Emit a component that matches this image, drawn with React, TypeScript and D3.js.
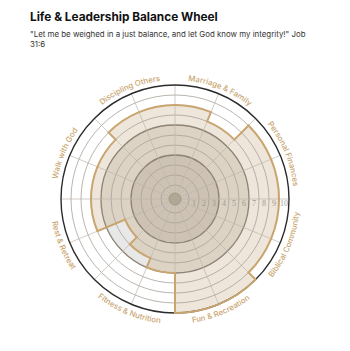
import React from 'react';
import * as d3 from 'd3';

// wheel categories, clockwise from 12 o'clock
const categories = [
  'Marriage & Family',
  'Personal Finances',
  'Biblical Community',
  'Fun & Recreation',
  'Fitness & Nutrition',
  'Rest & Retreat',
  'Walk with God',
  'Discipling Others',
];

// each wedge is drawn as two halves
const firstHalfScores = [8, 9, 9, 10, 6, 4, 7, 8];
const secondHalfScores = [7, 9, 9, 10, 5, 7, 7, 8];

// light grey area left behind in a couple of halves
const ghostFirstHalf = [0, 0, 0, 0, 0, 6, 0, 0];
const ghostSecondHalf = [0, 0, 0, 0, 6, 0, 0, 0];

const scaleTicks = [1, 2, 3, 4, 5, 6, 7, 8, 9, 10];

const W = 350;
const H = 351;
const cx = 175;
const cy = 199;

const TAN = '#c9a56f';

export default function App() {
  const r = d3.scaleLinear().domain([0, 10]).range([14, 114]);
  const n = categories.length;
  const wedge = (2 * Math.PI) / n;
  const half = wedge / 2;

  // halves as flat list
  const halves: { a0: number; a1: number; v: number; ghost: number }[] = [];
  categories.forEach((_, i) => {
    halves.push({ a0: i * wedge, a1: i * wedge + half, v: firstHalfScores[i], ghost: ghostFirstHalf[i] });
    halves.push({ a0: i * wedge + half, a1: (i + 1) * wedge, v: secondHalfScores[i], ghost: ghostSecondHalf[i] });
  });

  // outline of the scores
  const p = d3.path();
  halves.forEach((h) => {
    p.arc(0, 0, r(h.v), h.a0 - Math.PI / 2, h.a1 - Math.PI / 2);
  });
  p.closePath();
  const shape = p.toString();

  const ghostArc = d3.arc<any>();

  const bands = [
    { to: 10, fill: '#eee6da' },
    { to: 6, fill: '#ddd3c5' },
    { to: 3, fill: '#cdc2b3' },
  ];

  const spokes = d3.range(n * 2).map((i) => i * half);

  const labelPaths = categories.map((c, i) => {
    const mid = i * wedge + half;
    const top = mid < Math.PI / 2 || mid > (3 * Math.PI) / 2;
    const span = Math.PI / 3;
    const rad = top ? 119 : 125;
    const pt = (a: number) => [rad * Math.sin(a), -rad * Math.cos(a)];
    const s = top ? pt(mid - span) : pt(mid + span);
    const e = top ? pt(mid + span) : pt(mid - span);
    return `M${s[0]},${s[1]} A${rad},${rad} 0 0 ${top ? 1 : 0} ${e[0]},${e[1]}`;
  });

  return (
    <svg
      width={W}
      height={H}
      style={{ position: 'absolute', left: 0, top: 0, background: '#fff' }}
      fontFamily="Inter, 'Noto Sans', sans-serif"
    >
      <defs>
        <clipPath id="scoreClip">
          <path d={shape} transform={`translate(${cx},${cy})`} />
        </clipPath>
        {labelPaths.map((d, i) => (
          <path key={i} id={`lbl${i}`} d={d} />
        ))}
      </defs>

      <text x={30} y={21} fontSize={11.8} fontWeight={700} fill="#111">
        Life &amp; Leadership Balance Wheel
      </text>
      <text x={30} y={37} fontSize={7.9} fill="#333">
        "Let me be weighed in a just balance, and let God know my integrity!" Job
      </text>
      <text x={30} y={46.5} fontSize={7.9} fill="#333">
        31:6
      </text>

      <g transform={`translate(${cx},${cy})`}>
        {/* grey leftover areas */}
        {halves
          .filter((h) => h.ghost > h.v)
          .map((h, i) => (
            <path
              key={i}
              d={ghostArc({ innerRadius: r(h.v), outerRadius: r(h.ghost), startAngle: h.a0, endAngle: h.a1 }) || ''}
              fill="#e8e8e8"
            />
          ))}
      </g>

      {/* tonal bands clipped to score shape */}
      <g clipPath="url(#scoreClip)">
        {bands.map((b) => (
          <circle key={b.to} cx={cx} cy={cy} r={r(b.to)} fill={b.fill} />
        ))}
      </g>

      <g transform={`translate(${cx},${cy})`}>
        {/* rings */}
        {d3.range(0, 10).map((k) => (
          <circle
            key={k}
            r={r(k)}
            fill="none"
            stroke={k === 3 || k === 6 ? '#8e8375' : '#a8a199'}
            strokeWidth={k === 3 || k === 6 ? 1.3 : 0.8}
          />
        ))}

        {/* spokes */}
        {spokes.map((a, i) => (
          <line
            key={i}
            x1={0}
            y1={0}
            x2={r(10) * Math.sin(a)}
            y2={-r(10) * Math.cos(a)}
            stroke="#bdb6ad"
            strokeWidth={0.7}
          />
        ))}

        <circle r={r(10)} fill="none" stroke="#2b2b2b" strokeWidth={1.4} />

        <path d={shape} fill="none" stroke={TAN} strokeWidth={2} strokeLinejoin="miter" />

        <circle r={6} fill="#b2a695" stroke="#9d9283" strokeWidth={0.8} />

        {scaleTicks.map((t) => (
          <text
            key={t}
            x={(r(t - 1) + r(t)) / 2}
            y={7}
            fontSize={8}
            fontFamily="'Liberation Serif', 'DejaVu Serif', serif"
            textAnchor="middle"
            fill="#a39a8f"
          >
            {t}
          </text>
        ))}
      </g>

      <g transform={`translate(${cx},${cy})`}>
        {categories.map((c, i) => (
          <text key={c} fontSize={7.8} fill={TAN} fontWeight={500}>
            <textPath href={`#lbl${i}`} startOffset="50%" textAnchor="middle">
              {c}
            </textPath>
          </text>
        ))}
      </g>
    </svg>
  );
}
